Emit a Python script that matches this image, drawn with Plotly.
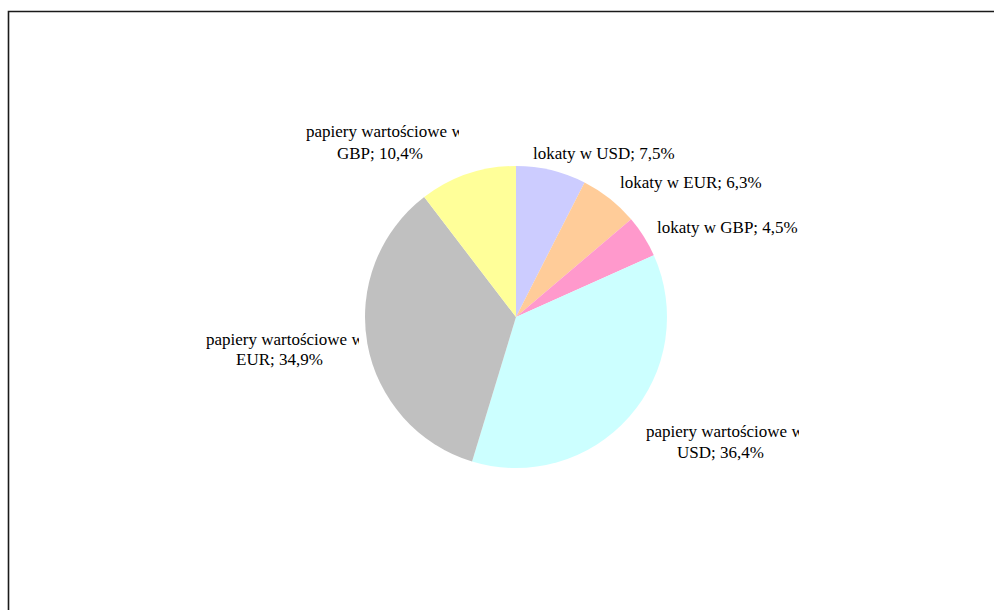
import plotly.graph_objects as go

# Portfolio structure by instrument and currency
categories = [
    "lokaty w USD",
    "lokaty w EUR",
    "lokaty w GBP",
    "papiery wartościowe w USD",
    "papiery wartościowe w EUR",
    "papiery wartościowe w GBP",
]
shares = [7.5, 6.3, 4.5, 36.4, 34.9, 10.4]
colors = ["#CCCCFF", "#FFCC99", "#FF99CC", "#CCFFFF", "#C0C0C0", "#FFFF99"]

W, H = 994, 610
cx, cy, r = 516, 317, 151
FONT = dict(family="Liberation Serif", size=17, color="#000000")

fig = go.Figure(
    go.Pie(
        labels=categories,
        values=shares,
        marker=dict(colors=colors, line=dict(width=0)),
        sort=False,
        direction="clockwise",
        rotation=0,
        textinfo="none",
        hoverinfo="skip",
        domain=dict(
            x=[(cx - r) / W, (cx + r) / W],
            y=[1 - (cy + r) / H, 1 - (cy - r) / H],
        ),
    )
)


def fmt(v):
    return f"{v:.1f}".replace(".", ",") + "%"


# Single-line labels: centre of the text block (px)
single_pos = {0: (604, 153), 1: (691, 182), 2: (727, 227)}
# Two-line labels: left edge of the clipped first line, its y, and centre of second line
double_pos = {3: (645, 431, 720, 452), 4: (205, 339, 279, 359), 5: (305, 132, 380, 153)}
BOX_W = 153

annotations = []
for i, (name, v) in enumerate(zip(categories, shares)):
    if i in single_pos:
        px, py = single_pos[i]
        annotations.append(dict(
            text=f"{name}; {fmt(v)}", x=px / W, y=1 - py / H,
            xref="paper", yref="paper", xanchor="center", yanchor="middle",
            showarrow=False, font=FONT,
        ))
    else:
        lx, ly, cx2, cy2 = double_pos[i]
        head, cur = name.rsplit(" ", 1)
        # first line sits in a fixed-width box, so the overflow is cut off on the right
        annotations.append(dict(
            text=head, x=lx / W, y=1 - ly / H, width=BOX_W, align="left",
            xref="paper", yref="paper", xanchor="left", yanchor="middle",
            showarrow=False, font=FONT, borderpad=0,
        ))
        annotations.append(dict(
            text=f"{cur}; {fmt(v)}", x=cx2 / W, y=1 - cy2 / H,
            xref="paper", yref="paper", xanchor="center", yanchor="middle",
            showarrow=False, font=FONT,
        ))

fig.update_layout(
    width=W,
    height=H,
    margin=dict(l=0, r=0, t=0, b=0),
    paper_bgcolor="white",
    plot_bgcolor="white",
    showlegend=False,
    annotations=annotations,
    shapes=[
        dict(
            type="rect",
            xref="paper",
            yref="paper",
            x0=8.5 / W,
            x1=1.05,
            y0=-0.05,
            y1=1 - 11.5 / H,
            line=dict(color="#1a1a1a", width=1.6),
            fillcolor="rgba(0,0,0,0)",
        )
    ],
)

fig.write_html("out.html")
